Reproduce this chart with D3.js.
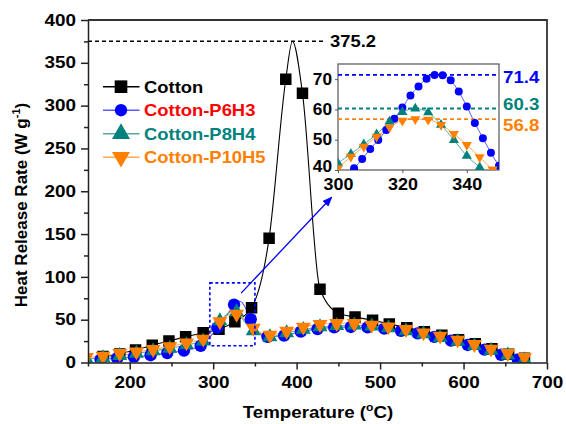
<!DOCTYPE html>
<html>
<head>
<meta charset="utf-8">
<script src="https://cdn.jsdelivr.net/npm/d3@7"></script>
<style>
  body { margin: 0; background: #fff; }
  text { font-family: "Liberation Sans", Arial, sans-serif; font-weight: bold; }
</style>
</head>
<body>
<script>
// ---- data ----
// main plot markers: temperature (°C) and heat release rate (W/g)
let cottonT = [168, 188, 207, 227, 247, 267, 288, 307, 326, 346, 367, 387, 407, 428, 450, 470, 491, 511, 532, 553, 574, 594, 614, 634, 654, 673]
let cottonHRR = [7, 10, 14.6, 20.1, 25.1, 30, 34.8, 38.8, 47.7, 64, 145, 330.8, 314.5, 85.5, 57.5, 53.2, 49.3, 45, 40.7, 36, 31.8, 26.6, 22, 16.1, 9.6, 4.9]
// cotton curve points without a marker (the peak)
let cottonPeakT = [395]
let cottonPeakHRR = [375.2]

let p6T = [165, 185, 205, 225, 245, 265, 285, 305, 325, 345, 365, 385, 405, 425, 445, 465, 485, 505, 525, 545, 565, 585, 605, 625, 645, 665]
let p6HRR = [3.5, 5, 6.5, 8.5, 11, 14, 19.5, 40.6, 67.6, 50.5, 30, 31.5, 36, 39, 41, 41.5, 41, 39.5, 37, 34, 30, 25.5, 20.5, 15, 9, 3.5]

let p8T = [148, 168, 188, 208, 228, 248, 268, 288, 308, 328, 348, 368, 388, 408, 428, 448, 469, 490, 510, 531, 552, 572, 593, 613, 633, 653, 673]
let p8HRR = [4, 5.5, 8, 10.5, 13.5, 16.5, 20.5, 25, 48.5, 59, 37, 30, 34.5, 38.5, 41.5, 43, 43.5, 42.5, 40.5, 37, 33.5, 29, 24.5, 19.5, 14, 8.5, 3]

let p10T = [148, 168, 188, 208, 228, 248, 268, 288, 308, 328, 348, 368, 388, 408, 428, 448, 469, 490, 510, 531, 552, 572, 593, 613, 633, 653, 673]
let p10HRR = [6, 7.6, 10.7, 12.6, 15.4, 18.5, 23.1, 27.5, 47.7, 56.6, 40.2, 32, 36.8, 41.5, 44.5, 45.8, 45.8, 43.8, 41.8, 38.8, 34.8, 31, 26.3, 21.3, 15.8, 10.7, 6.1]

// inset (zoom of the 300-350 °C region)
let p6InsetT = [305, 307.5, 310, 312.5, 315, 317.5, 320, 322.5, 325, 327.5, 330, 332.5, 335, 337.5, 340, 342.5, 345, 347.5, 350]
let p6InsetHRR = [40.6, 43.6, 46.9, 49.9, 53.2, 56.9, 60.6, 64.6, 67.6, 70.1, 71.4, 71.3, 69.6, 65.9, 61.0, 55.5, 50.5, 45.7, 41.4]
let p8InsetT = [300, 304, 308, 312, 316, 320, 324, 328, 332, 336, 340, 344]
let p8InsetHRR = [42.2, 45.3, 48.5, 51.8, 56.0, 59.1, 60.3, 59.0, 54.9, 49.9, 44.7, 40.9]
let p10InsetT = [300, 304, 308, 312, 316, 320, 324, 328, 332, 336, 340, 344, 348]
let p10InsetHRR = [40.6, 44.4, 47.7, 51.0, 54.1, 56.3, 56.8, 56.6, 54.9, 51.9, 48.3, 44.2, 40.2]

let peakCotton = 375.2
let insetPeaks = [71.4, 60.3, 56.8]

let names = ['Cotton', 'Cotton-P6H3', 'Cotton-P8H4', 'Cotton-P10H5']
let xTicks = [200, 300, 400, 500, 600, 700]
let xMinor = [150, 250, 350, 450, 550, 650]
let yTicks = [0, 50, 100, 150, 200, 250, 300, 350, 400]
let yMinor = [25, 75, 125, 175, 225, 275, 325, 375]
let insetXTicks = [300, 320, 340]
let insetYTicks = [40, 50, 60, 70]

// ---- setup ----
let width = 566
let height = 424

let svg = d3.select('body')
  .append('svg')
  .attr('width', width)
  .attr('height', height)

let x = d3.scaleLinear().domain([150, 700]).range([88, 547])
let y = d3.scaleLinear().domain([0, 400]).range([362.5, 20])
let ix = d3.scaleLinear().domain([300, 350]).range([338, 499])
let iy = d3.scaleLinear().domain([40, 75]).range([170, 64])

let zip = (t, v) => t.map((d, i) => ({ t: d, v: v[i] }))
function merge(a, b) {
  let m = new Map()
  a.forEach(d => m.set(d.t, d.v))
  b.forEach(d => m.set(d.t, d.v))
  return d3.sort(Array.from(m, ([t, v]) => ({ t, v })), d => d.t)
}

let series = [
  { name: names[0], marks: zip(cottonT, cottonHRR), extra: zip(cottonPeakT, cottonPeakHRR), inset: [],
    shape: 'square', fill: '#000', line: '#000', text: '#000' },
  { name: names[1], marks: zip(p6T, p6HRR), extra: zip(p6InsetT, p6InsetHRR), inset: zip(p6InsetT, p6InsetHRR),
    shape: 'circle', fill: '#0000ff', line: '#5a5aff', text: '#ff0000' },
  { name: names[2], marks: zip(p8T, p8HRR), extra: zip(p8InsetT, p8InsetHRR), inset: zip(p8InsetT, p8InsetHRR),
    shape: 'up', fill: '#00827c', line: '#55aaa6', text: '#00827c' },
  { name: names[3], marks: zip(p10T, p10HRR), extra: zip(p10InsetT, p10InsetHRR), inset: zip(p10InsetT, p10InsetHRR),
    shape: 'down', fill: '#ff8000', line: '#ffaa55', text: '#ff8000' },
]

function symbolPath(shape, size) {
  let type = shape === 'square' ? d3.symbolSquare : shape === 'circle' ? d3.symbolCircle : d3.symbolTriangle
  return d3.symbol(type, size)()
}
function markerSize(shape, k) {
  return (shape === 'square' ? 132 : shape === 'circle' ? 120 : 97) * k
}

// horizontally stretch a text (the figure's lettering is wide)
function stretch(sel, k) {
  sel.each(function () {
    let t = d3.select(this)
    let tx = +t.attr('x') || 0
    let ty = +t.attr('y') || 0
    t.attr('x', 0).attr('y', 0).attr('transform', `translate(${tx},${ty}) scale(${k},1)`)
  })
}

let defs = svg.append('defs')
defs.append('clipPath').attr('id', 'plotClip')
  .append('rect').attr('x', 88).attr('y', 20).attr('width', 459).attr('height', 342.5)
defs.append('clipPath').attr('id', 'insetClip')
  .append('rect').attr('x', 338).attr('y', 64).attr('width', 161).attr('height', 106)
defs.append('marker').attr('id', 'arrow')
  .attr('markerUnits', 'userSpaceOnUse')
  .attr('markerWidth', 10).attr('markerHeight', 8)
  .attr('refX', 9).attr('refY', 4).attr('orient', 'auto')
  .append('path').attr('d', 'M0,0 L10,4 L0,8 Z').attr('fill', '#0000ff')

// ---- main plot ----
let plot = svg.append('g').attr('clip-path', 'url(#plotClip)')

let line = d3.line().x(d => x(d.t)).y(d => y(d.v)).curve(d3.curveMonotoneX)

series.forEach(s => {
  plot.append('path')
    .datum(merge(s.marks, s.extra))
    .attr('d', line)
    .attr('fill', 'none')
    .attr('stroke', s.line)
    .attr('stroke-width', 1.1)
})
series.forEach(s => {
  let p = symbolPath(s.shape, markerSize(s.shape, 1))
  plot.append('g').selectAll('path')
    .data(s.marks)
    .join('path')
    .attr('d', p)
    .attr('transform', d => `translate(${x(d.t)},${y(d.v)})` + (s.shape === 'down' ? ' rotate(180)' : ''))
    .attr('fill', s.fill)
})

// peak line of cotton
svg.append('line')
  .attr('x1', x(150)).attr('x2', 326)
  .attr('y1', y(peakCotton)).attr('y2', y(peakCotton))
  .attr('stroke', '#000').attr('stroke-width', 1.3).attr('stroke-dasharray', '4,3')
svg.append('text')
  .attr('x', 330).attr('y', y(peakCotton) + 6)
  .attr('font-size', 16).attr('fill', '#000')
  .text(d3.format('.1f')(peakCotton))
  .call(stretch, 1.15)

// dashed box around the zoomed region and arrow
svg.append('rect')
  .attr('x', x(296)).attr('y', y(93))
  .attr('width', x(350) - x(296)).attr('height', y(19.5) - y(93))
  .attr('fill', 'none').attr('stroke', '#0000ff').attr('stroke-width', 1.6).attr('stroke-dasharray', '3,2.5')
svg.append('line')
  .attr('x1', x(333.5)).attr('y1', y(81))
  .attr('x2', x(442)).attr('y2', y(193))
  .attr('stroke', '#0000ff').attr('stroke-width', 1.3)
  .attr('marker-end', 'url(#arrow)')

// axes
let yAxis = svg.append('g')
  .attr('transform', 'translate(88,0)')
  .call(d3.axisLeft(y).tickValues(yTicks).tickSize(7).tickPadding(5).tickSizeOuter(0))
yAxis.append('g')
  .call(d3.axisLeft(y).tickValues(yMinor).tickSize(4).tickSizeOuter(0).tickFormat(''))
  .call(g => g.select('.domain').remove())

let xAxis = svg.append('g')
  .attr('transform', 'translate(0,362.5)')
  .call(d3.axisBottom(x).tickValues(xTicks).tickSize(7).tickPadding(7).tickSizeOuter(0))
xAxis.append('g')
  .call(d3.axisBottom(x).tickValues(xMinor).tickSize(4).tickSizeOuter(0).tickFormat(''))
  .call(g => g.select('.domain').remove())

svg.selectAll('.domain, .tick line').attr('stroke', '#222').attr('stroke-width', 1.5)
yAxis.selectAll('text').attr('font-size', 16).attr('fill', '#000').call(stretch, 1.18)
xAxis.selectAll('text').attr('font-size', 16).attr('fill', '#000').call(stretch, 1.18)

// frame
svg.append('path')
  .attr('d', `M${x(150)},${y(400)}H${x(700)}V${y(0)}`)
  .attr('fill', 'none').attr('stroke', '#333').attr('stroke-width', 1.8)

// axis titles
let xt = svg.append('text')
  .attr('x', 318).attr('y', 418)
  .attr('text-anchor', 'middle').attr('font-size', 17).attr('fill', '#000')
xt.append('tspan').text('Temperature (')
xt.append('tspan').attr('font-size', 11).attr('dy', -7).text('o')
xt.append('tspan').attr('dy', 7).text('C)')
xt.call(stretch, 1.1)

let yt = svg.append('text')
  .attr('transform', 'translate(27,205) rotate(-90)')
  .attr('text-anchor', 'middle').attr('font-size', 17).attr('fill', '#000')
yt.append('tspan').text('Heat Release Rate (W g')
yt.append('tspan').attr('font-size', 11).attr('dy', -7).text('-1')
yt.append('tspan').attr('dy', 7).text(')')

// legend
let legend = svg.append('g')
series.forEach((s, i) => {
  let cy = 86.7 + i * 23.5
  legend.append('line')
    .attr('x1', 103).attr('x2', 139.5).attr('y1', cy).attr('y2', cy)
    .attr('stroke', s.line).attr('stroke-width', 1.5)
  legend.append('path')
    .attr('d', symbolPath(s.shape, s.shape === 'square' ? 160 : s.shape === 'circle' ? 120 : 140))
    .attr('transform', `translate(121,${cy})` + (s.shape === 'down' ? ' rotate(180)' : ''))
    .attr('fill', s.fill)
  legend.append('text')
    .attr('x', 144).attr('y', cy + 5.8)
    .attr('font-size', 16).attr('fill', s.text)
    .text(s.name)
    .call(stretch, 1.15)
})

// ---- inset ----
let inset = svg.append('g')
inset.append('rect')
  .attr('x', ix(300)).attr('y', iy(75))
  .attr('width', ix(350) - ix(300)).attr('height', iy(40) - iy(75))
  .attr('fill', '#fff').attr('stroke', '#555').attr('stroke-width', 1.2)

let inner = inset.append('g').attr('clip-path', 'url(#insetClip)')
let iline = d3.line().x(d => ix(d.t)).y(d => iy(d.v)).curve(d3.curveMonotoneX)
series.slice(1).forEach(s => {
  inner.append('path')
    .datum(merge(s.marks, s.inset))
    .attr('d', iline)
    .attr('fill', 'none').attr('stroke', s.line).attr('stroke-width', 1)
})

let peakColors = ['#0000ff', '#00827c', '#ff8000']
let peakLabelY = [82.8, 110, 131]
series.slice(1).forEach((s, i) => {
  inner.append('line')
    .attr('x1', ix(300)).attr('x2', ix(350))
    .attr('y1', iy(insetPeaks[i])).attr('y2', iy(insetPeaks[i]))
    .attr('stroke', peakColors[i]).attr('stroke-width', 1.8).attr('stroke-dasharray', '4,3')
})
series.slice(1).forEach(s => {
  let p = symbolPath(s.shape, s.shape === 'circle' ? 50 : 44)
  inner.append('g').selectAll('path')
    .data(s.inset)
    .join('path')
    .attr('d', p)
    .attr('transform', d => `translate(${ix(d.t)},${iy(d.v)})` + (s.shape === 'down' ? ' rotate(180)' : ''))
    .attr('fill', s.fill)
})
insetPeaks.forEach((v, i) => {
  inset.append('text')
    .attr('x', 503).attr('y', peakLabelY[i])
    .attr('font-size', 17).attr('fill', peakColors[i])
    .text(d3.format('.1f')(v))
    .call(stretch, 1.1)
})

let iyAxis = inset.append('g')
  .attr('transform', `translate(${ix(300)},0)`)
  .call(d3.axisLeft(iy).tickValues(insetYTicks).tickSize(3).tickPadding(3).tickSizeOuter(0))
let ixAxis = inset.append('g')
  .attr('transform', `translate(0,${iy(40)})`)
  .call(d3.axisBottom(ix).tickValues(insetXTicks).tickSize(3).tickPadding(6).tickSizeOuter(0))
inset.selectAll('.domain').remove()
inset.selectAll('.tick line').attr('stroke', '#555').attr('stroke-width', 1)
iyAxis.selectAll('text').attr('font-size', 16).attr('fill', '#000').call(stretch, 1.08)
ixAxis.selectAll('text').attr('font-size', 16).attr('fill', '#000').call(stretch, 1.12)
// keep the bottom "40" clear of the "300" below it
iyAxis.selectAll('.tick').filter(d => d === 40).select('text').attr('dy', '0.1em')
</script>
</body>
</html>
